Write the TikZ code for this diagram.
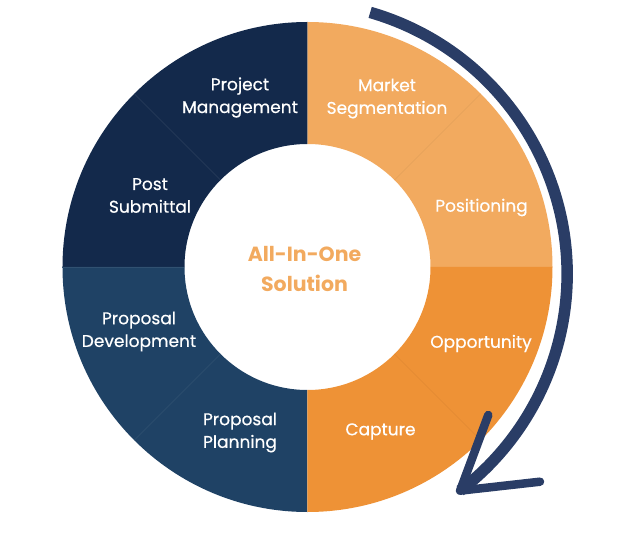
\documentclass[tikz,border=0pt]{standalone}
\usepackage{fontspec}
\setmainfont{Poppins}
\newfontfamily\segfont{Poppins}[FakeBold=0.45]
\usepackage{tikz}
\usetikzlibrary{positioning}
\pgfdeclarelayer{ringlayer}
\pgfdeclarelayer{edgelayer}
\pgfsetlayers{ringlayer,edgelayer,main}
\definecolor{lightorange}{HTML}{F2AA5F}
\definecolor{darkorange}{HTML}{EE9236}
\definecolor{darknavy}{HTML}{13294B}
\definecolor{midnavy}{HTML}{1F4265}
\definecolor{arcnavy}{HTML}{2A3D66}
\tikzset{
    none/.style = {inner sep=0pt},
    seglabel/.style = {inner sep=0pt, text=white, align=center, font=\segfont\fontsize{17}{22.7}\selectfont},
    hublabel/.style = {inner sep=0pt, text=lightorange, align=center, font=\fontsize{20.5}{30}\selectfont\bfseries},
    divider/.style = {line width=0.4pt},
    arcline/.style = {arcnavy, line width=11.5pt},
    barbline/.style = {arcnavy, line width=8.5pt, line cap=round, line join=round}
}

\begin{document}
\begin{tikzpicture}[x=1pt, y=1pt]
    \useasboundingbox (-307.5,-271) rectangle (332.5,267);
    \begin{pgfonlayer}{ringlayer}
        \fill [lightorange] (0:123) arc[start angle=0, end angle=90, radius=123] -- (90:245) arc[start angle=90, end angle=0, radius=245] -- cycle;
        \fill [darknavy] (90:123) arc[start angle=90, end angle=180, radius=123] -- (180:245) arc[start angle=180, end angle=90, radius=245] -- cycle;
        \fill [midnavy] (180:123) arc[start angle=180, end angle=270, radius=123] -- (270:245) arc[start angle=270, end angle=180, radius=245] -- cycle;
        \fill [darkorange] (270:123) arc[start angle=270, end angle=360, radius=123] -- (0:245) arc[start angle=0, end angle=-90, radius=245] -- cycle;
    \end{pgfonlayer}
    \begin{pgfonlayer}{edgelayer}
        \coordinate (0) at (45:123);
        \coordinate (1) at (45:245);
        \coordinate (2) at (135:123);
        \coordinate (3) at (135:245);
        \coordinate (4) at (180:123);
        \coordinate (5) at (180:245);
        \coordinate (6) at (225:123);
        \coordinate (7) at (225:245);
        \coordinate (8) at (315:123);
        \coordinate (9) at (315:245);
        \draw [divider, lightorange!94!black] (0) to (1);
        \draw [divider, darknavy!90!white] (2) to (3);
        \draw [divider, midnavy!92!white] (4) to (5);
        \draw [divider, midnavy!92!white] (6) to (7);
        \draw [divider, darkorange!94!black] (8) to (9);
        % Turning arrow round the ring
        \coordinate (10) at (-12.9, -7.2);
        \draw [arcline] (10) ++(73.9:272.5) arc[start angle=73.9, end angle=-52.6, radius=272.5] coordinate (11);
        \coordinate (12) at (180.8, -148);
        \coordinate (13) at (232.5, -214.7);
        \draw [barbline] (12) to (11) to (13);
    \end{pgfonlayer}
    \node [seglabel] (14) at (79.5, 168.5) {Market\\Segmentation};
    \node [seglabel] (15) at (174, 59.5) {Positioning};
    \node [seglabel] (16) at (173.5, -76.5) {Opportunity};
    \node [seglabel] (17) at (73, -164.5) {Capture};
    \node [seglabel] (18) at (-67.5, 169.5) {Project\\Management};
    \node [seglabel] (19) at (-157.5, 71.5) {Post\\Submittal};
    \node [seglabel] (20) at (-168.5, -64.5) {Proposal\\Development};
    \node [seglabel] (21) at (-67.5, -165.5) {Proposal\\Planning};
    \node [hublabel] (22) at (-3, -2) {All-In-One\\Solution};
\end{tikzpicture}
\end{document}
